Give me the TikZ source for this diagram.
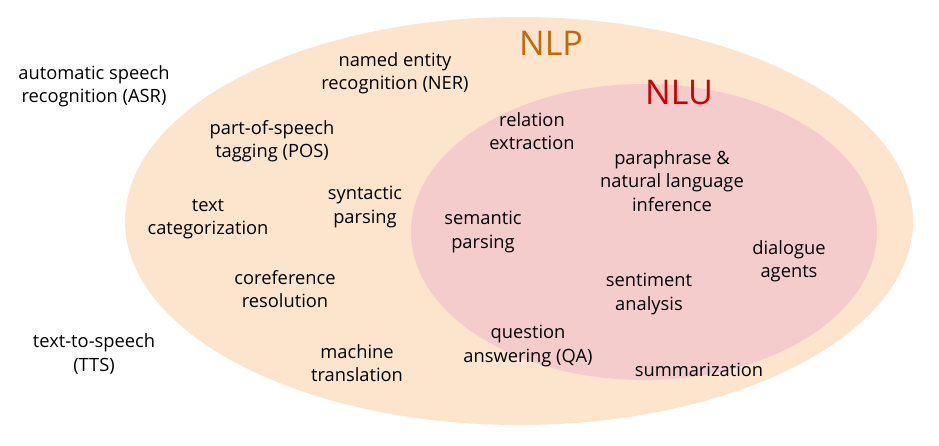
\documentclass[tikz,border=0pt]{standalone}
\usepackage{fontspec}
\setmainfont{Open Sans}
\definecolor{nlpfill}{HTML}{FCE4CD}
\definecolor{nlufill}{HTML}{F4CCCC}
\definecolor{nlptext}{HTML}{C06A10}
\definecolor{nlutext}{HTML}{CC0000}
\begin{document}
\begin{tikzpicture}[x=1pt,y=-1pt,
  lbl/.style={align=center,font=\fontsize{18.3}{23.5}\selectfont,text=black,inner sep=0pt},
  ttl/.style={font=\fontsize{34}{36}\selectfont,inner sep=0pt}]
\useasboundingbox (0,0) rectangle (939,445);
\fill[nlpfill] (519,221) ellipse [x radius=394, y radius=204];
\fill[nlufill] (644,232) ellipse [x radius=233, y radius=148];
\node[ttl,text=nlptext] (nlp) at (551,43) {NLP};
\node[ttl,text=nlutext] (nlu) at (679,93) {NLU};
\node[lbl] (asr) at (94,86) {automatic speech\\recognition (ASR)};
\node[lbl] (ner) at (395,73) {named entity\\recognition (NER)};
\node[lbl] (rel) at (532,131) {relation\\extraction};
\node[lbl] (pos) at (272,141) {part-of-speech\\tagging (POS)};
\node[lbl] (para) at (672,181) {paraphrase \&\\natural language\\inference};
\node[lbl] (syn) at (365,207) {syntactic\\parsing};
\node[lbl] (cat) at (208,219) {text\\categorization};
\node[lbl] (sem) at (483,232) {semantic\\parsing};
\node[lbl] (dia) at (789,261) {dialogue\\agents};
\node[lbl] (coref) at (285,289) {coreference\\resolution};
\node[lbl] (sent) at (649,294) {sentiment\\analysis};
\node[lbl] (qa) at (528,346) {question\\answering (QA)};
\node[lbl] (tts) at (94,354) {text-to-speech\\(TTS)};
\node[lbl] (mt) at (357,363) {machine\\translation};
\node[lbl] (sum) at (699,370) {summarization};
\end{tikzpicture}
\end{document}
